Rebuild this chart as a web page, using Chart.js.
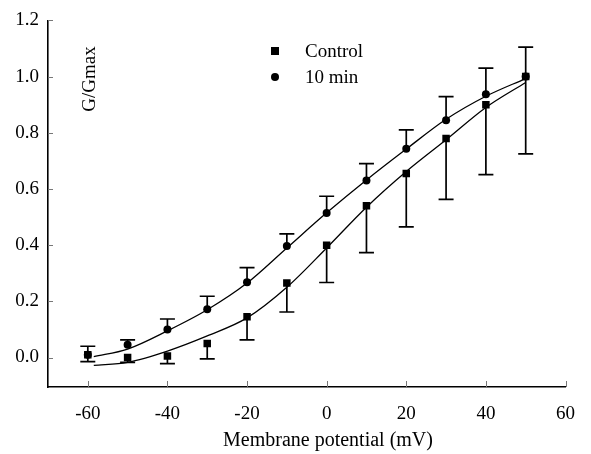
<!DOCTYPE html>
<html>
<head>
<meta charset="utf-8">
<script src="https://cdn.jsdelivr.net/npm/chart.js@4/dist/chart.umd.min.js"></script>
<style>
html,body{margin:0;padding:0;background:#fff;}
#wrap{width:591px;height:454px;}
</style>
</head>
<body>
<div id="wrap"><canvas id="c" width="591" height="454"></canvas></div>
<script>
// ---- data ----
const voltage = [-60, -50, -40, -30, -20, -10, 0, 10, 20, 30, 40, 50];
const controlMean = [0.01, 0.0, 0.005, 0.05, 0.145, 0.265, 0.40, 0.54, 0.655, 0.78, 0.90, 1.0];
const controlErrLow = [-0.015, -0.017, -0.022, -0.005, 0.063, 0.162, 0.267, 0.373, 0.465, 0.563, 0.651, 0.725];
const min10Mean = [0.01, 0.045, 0.10, 0.172, 0.268, 0.397, 0.514, 0.63, 0.743, 0.845, 0.937, 1.0];
const min10ErrHigh = [0.04, 0.063, 0.137, 0.218, 0.32, 0.44, 0.574, 0.69, 0.81, 0.929, 1.03, 1.105];

const fitVoltage = [-58.5, -50, -40, -30, -20, -10, 0, 10, 20, 30, 40, 50];
const controlFit = [-0.028, -0.017, 0.023, 0.077, 0.141, 0.25, 0.39, 0.535, 0.662, 0.775, 0.89, 0.979];
const min10Fit = [0.003, 0.03, 0.095, 0.17, 0.265, 0.39, 0.515, 0.632, 0.742, 0.848, 0.93, 0.993];

const xTicks = [-60, -40, -20, 0, 20, 40, 60];
const yTicks = [0.0, 0.2, 0.4, 0.6, 0.8, 1.0, 1.2];

const seriesNames = ['Control', '10 min'];
const xTitle = 'Membrane potential (mV)';
const yTitle = 'G/Gmax';

const FONT = '"Liberation Serif", "Times New Roman", serif';

function pts(xs, ys){ return xs.map((x,i)=>({x:x, y:ys[i]})); }

const errorBarPlugin = {
  id: 'errorBars',
  afterDatasetsDraw(chart){
    const ctx = chart.ctx, xs = chart.scales.x, ys = chart.scales.y;
    ctx.save();
    ctx.strokeStyle = '#000';
    ctx.lineWidth = 1.7;
    const cap = 7.5;
    const drawBar = (v, m, e) => {
      const px = xs.getPixelForValue(v);
      const py0 = ys.getPixelForValue(m);
      const py1 = ys.getPixelForValue(e);
      ctx.beginPath();
      ctx.moveTo(px, py0); ctx.lineTo(px, py1);
      ctx.moveTo(px - cap, py1); ctx.lineTo(px + cap, py1);
      ctx.stroke();
    };
    voltage.forEach((v,i)=>{
      drawBar(v, controlMean[i], controlErrLow[i]);
      drawBar(v, min10Mean[i], min10ErrHigh[i]);
    });
    ctx.restore();
  }
};

const decorPlugin = {
  id: 'decor',
  afterDraw(chart){
    const ctx = chart.ctx, xs = chart.scales.x, ys = chart.scales.y;
    const a = chart.chartArea;
    ctx.save();
    // inward tick marks
    ctx.strokeStyle = '#777';
    ctx.lineWidth = 1;
    xTicks.forEach(v=>{
      const px = Math.round(xs.getPixelForValue(v)) + 0.5;
      ctx.beginPath(); ctx.moveTo(px, a.bottom); ctx.lineTo(px, a.bottom - 6); ctx.stroke();
    });
    yTicks.forEach(v=>{
      const py = Math.round(ys.getPixelForValue(v)) + 0.5;
      ctx.beginPath(); ctx.moveTo(a.left, py); ctx.lineTo(a.left + 5, py); ctx.stroke();
    });
    ctx.fillStyle = '#000';
    // x title
    ctx.font = '20px ' + FONT;
    ctx.textAlign = 'center';
    ctx.textBaseline = 'middle';
    ctx.fillText(xTitle, 328, 441);
    // y title inside plot
    ctx.font = '19px ' + FONT;
    ctx.translate(90, 79);
    ctx.rotate(-Math.PI/2);
    ctx.fillText(yTitle, 0, 0);
    ctx.restore();

    // legend
    ctx.save();
    ctx.fillStyle = '#000';
    ctx.fillRect(271, 47, 8, 8);
    ctx.beginPath(); ctx.arc(275, 77, 4, 0, Math.PI*2); ctx.fill();
    ctx.font = '19px ' + FONT;
    ctx.textAlign = 'left';
    ctx.textBaseline = 'middle';
    ctx.fillText(seriesNames[0], 305, 52);
    ctx.fillText(seriesNames[1], 305, 78);
    ctx.restore();
  }
};

new Chart(document.getElementById('c'), {
  type: 'scatter',
  data: {
    datasets: [
      { label: seriesNames[0] + ' fit', type: 'line', data: pts(fitVoltage, controlFit),
        borderColor: '#000', borderWidth: 1.3, pointRadius: 0, fill: false,
        cubicInterpolationMode: 'monotone' },
      { label: seriesNames[1] + ' fit', type: 'line', data: pts(fitVoltage, min10Fit),
        borderColor: '#000', borderWidth: 1.3, pointRadius: 0, fill: false,
        cubicInterpolationMode: 'monotone' },
      { label: seriesNames[0], data: pts(voltage, controlMean), pointStyle: 'rect',
        pointRadius: 5.3, backgroundColor: '#000', borderColor: '#000', borderWidth: 0 },
      { label: seriesNames[1], data: pts(voltage, min10Mean), pointStyle: 'circle',
        pointRadius: 4, backgroundColor: '#000', borderColor: '#000', borderWidth: 0 }
    ]
  },
  options: {
    responsive: false,
    animation: false,
    layout: { padding: { left: 0, right: 22, top: 16, bottom: 0 } },
    plugins: { legend: { display: false }, tooltip: { enabled: false } },
    scales: {
      x: {
        type: 'linear', min: -70, max: 60,
        afterBuildTicks: s => { s.ticks = xTicks.map(v=>({value:v})); },
        afterFit: s => { s.height = 67; },
        grid: { display: false, drawTicks: false },
        border: { display: true, color: '#000', width: 1.6 },
        ticks: { color: '#000', padding: 16, font: { family: FONT, size: 19 },
                 maxRotation: 0, autoSkip: false, callback: v => String(v) }
      },
      y: {
        type: 'linear', min: -0.105, max: 1.2,
        afterBuildTicks: s => { s.ticks = yTicks.map(v=>({value:v})); },
        afterFit: s => { s.width = 48; },
        grid: { display: false, drawTicks: false },
        border: { display: true, color: '#000', width: 1.6 },
        ticks: { color: '#000', padding: 9, font: { family: FONT, size: 19 },
                 autoSkip: false, callback: v => Number(v).toFixed(1) }
      }
    }
  },
  plugins: [errorBarPlugin, decorPlugin]
});
</script>
</body>
</html>
